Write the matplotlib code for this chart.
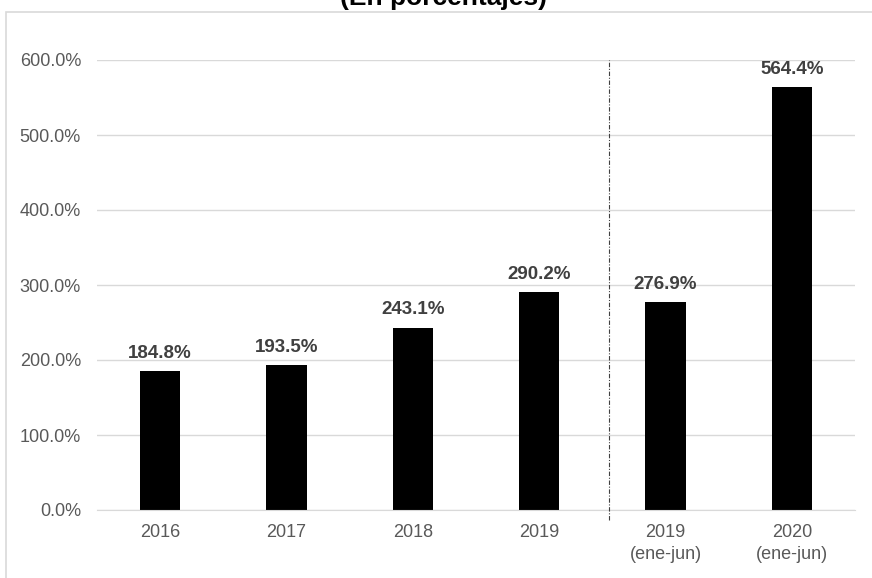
import matplotlib.pyplot as plt
from matplotlib.patches import Rectangle

plt.rcParams['font.family'] = ['Liberation Sans', 'DejaVu Sans']

# datos
categorias = ['2016', '2017', '2018', '2019', '2019\n(ene-jun)', '2020\n(ene-jun)']
valores = [184.8, 193.5, 243.1, 290.2, 276.9, 564.4]
y_ticks = [0, 100, 200, 300, 400, 500, 600]
titulo = '(En porcentajes)'

fig = plt.figure(figsize=(8.72, 5.78), dpi=100)
ax = fig.add_axes([97 / 872, 1 - 510 / 578, (855 - 97) / 872, 450 / 578])

x = list(range(len(categorias)))
ax.bar(x, valores, width=0.32, color='black', zorder=3)

for xi, v in zip(x, valores):
    ax.annotate(f'{v:.1f}%', (xi, v), xytext=(0, 9.5), textcoords='offset points',
                ha='center', va='baseline', fontsize=13.5, fontweight='bold', color='#404040')

ax.set_xlim(-0.5, len(categorias) - 0.5)
ax.set_ylim(0, 600)
ax.set_yticks(y_ticks)
ax.set_yticklabels([f'{t:.1f}%' for t in y_ticks])
ax.set_xticks(x)
ax.set_xticklabels(categorias, linespacing=1.4)
ax.tick_params(axis='both', length=0, labelsize=13, labelcolor='#595959')
ax.tick_params(axis='y', pad=11.5)
ax.tick_params(axis='x', pad=10)

ax.grid(axis='y', color='#d9d9d9', linewidth=1, zorder=0)
for s in ['top', 'right', 'left']:
    ax.spines[s].set_visible(False)
ax.spines['bottom'].set_color('#d9d9d9')
ax.spines['bottom'].set_zorder(4)

# linea separadora entre anual y semestral
ax.plot([3.55, 3.55], [-13, 600], color='#404040', linestyle=(0, (4, 1.5, 1, 1.5)),
        linewidth=0.8, clip_on=False, zorder=5)

# marco del grafico
fig.patches.append(Rectangle((6 / 872, -0.05), 1.0, 1 - 12 / 578 + 0.05,
                             transform=fig.transFigure, fill=False,
                             edgecolor='#d9d9d9', linewidth=1.2))

fig.text(443 / 872, 1 - 5 / 578, titulo, ha='center', va='baseline',
         fontsize=19, fontweight='bold', color='black')

fig.savefig('out.png', dpi=100)
